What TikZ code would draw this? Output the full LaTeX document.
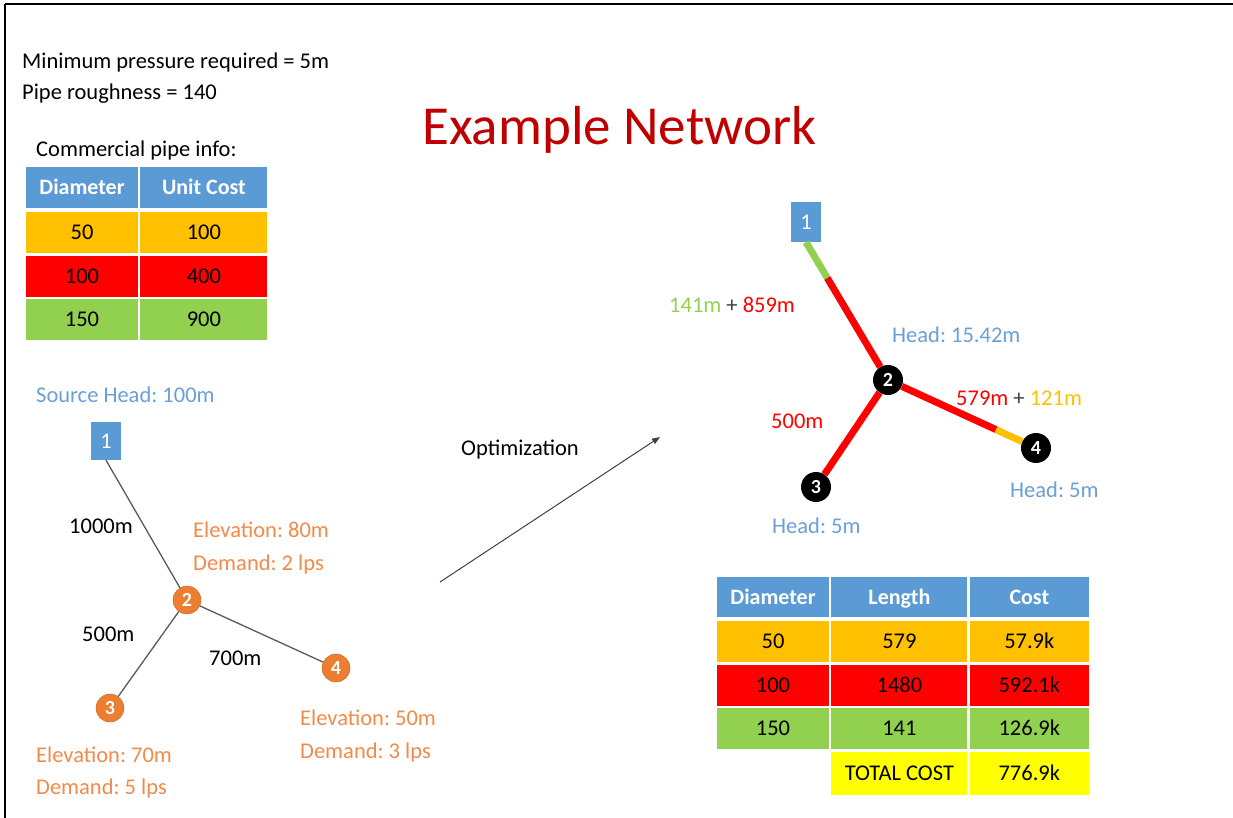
\documentclass[tikz,border=0pt]{standalone}
\usepackage{fontspec}
\setmainfont{Carlito}
\usepackage{xcolor}
\usetikzlibrary{arrows.meta,positioning,calc}
\definecolor{hdrblue}{HTML}{5B9BD5}
\definecolor{headblue}{HTML}{6A9FD8}
\definecolor{pipeorange}{HTML}{FFC000}
\definecolor{pipered}{HTML}{FF0000}
\definecolor{pipegreen}{HTML}{92D050}
\definecolor{totalyellow}{HTML}{FFFF00}
\definecolor{nodeorange}{HTML}{ED7D31}
\definecolor{elevorange}{HTML}{F28A4B}
\definecolor{titlered}{HTML}{C00000}
\frenchspacing

\begin{document}
\begin{tikzpicture}[x=1pt, y=-1pt, every node/.style={font=\fontsize{22.5}{26}\selectfont}, lbl/.style={anchor=base west, inner sep=0pt}, cell/.style={rectangle, inner sep=0pt, minimum height=41pt, text height=14pt, text depth=0pt, text=black}, hdr/.style={cell, fill=hdrblue, text=white, font=\fontsize{22}{26}\selectfont\bfseries}, small/.style={cell, fill=pipeorange}, medium/.style={cell, fill=pipered}, large/.style={cell, fill=pipegreen}, total/.style={cell, fill=totalyellow}, source/.style={rectangle, fill=hdrblue, text=white, minimum width=30pt, minimum height=38pt, inner sep=0pt}, junction/.style={circle, fill=nodeorange, draw=nodeorange!80!black, text=white, minimum size=28pt, inner sep=0pt, font=\fontsize{20}{22}\selectfont\bfseries}, solved/.style={circle, fill=black, text=white, minimum size=30pt, inner sep=0pt, font=\fontsize{20}{22}\selectfont\bfseries}, link/.style={draw=black!65, line width=1.3pt}, pipe/.style={line width=7pt}, optarrow/.style={-{Triangle[length=8pt,width=6pt]}, draw=black!75, line width=1pt}]
\useasboundingbox (0,0) rectangle (1233,818);
\draw[line width=2.5pt] (5,4) -- (1233,4);
\draw[line width=2pt] (5,4) -- (5,818);

% problem data
\node[lbl] (minp) at (22,69) {Minimum pressure required = 5m};
\node[lbl] (rough) at (22,100) {Pipe roughness = 140};
\node[lbl, text=titlered, font=\fontsize{55}{60}\selectfont] (title) at (422,145) {Example Network};
\node[lbl] (info) at (36,157) {Commercial pipe info:};

% commercial pipe table
\node[hdr, minimum width=112pt] (pdia) at (82,187.5) {Diameter};
\node[hdr, minimum width=127pt, right=2pt of pdia] (pcost) {Unit Cost};
\node[small, minimum width=112pt, below=4pt of pdia] (pdia50) {50};
\node[small, minimum width=127pt, below=4pt of pcost] (pcost50) {100};
\node[medium, minimum width=112pt, below=2pt of pdia50] (pdia100) {100};
\node[medium, minimum width=127pt, below=2pt of pcost50] (pcost100) {400};
\node[large, minimum width=112pt, below=2pt of pdia100] (pdia150) {150};
\node[large, minimum width=127pt, below=2pt of pcost100] (pcost150) {900};

% input network
\node[lbl, text=headblue] (srchead) at (36,402) {Source Head: 100m};
\node[source] (a1) at (106,441) {1};
\node[junction] (a2) at (187,600) {2};
\node[junction] (a3) at (110,708) {3};
\node[junction] (a4) at (336,668) {4};
\draw[link] (a1.south) -- (a2);
\draw[link] (a2) -- (a3);
\draw[link] (a2) -- (a4);
\node[lbl] (len12) at (69,533) {1000m};
\node[lbl] (len23) at (82,641) {500m};
\node[lbl] (len24) at (209,665) {700m};
\node[lbl, text=elevorange] (elev2) at (193,537) {Elevation: 80m};
\node[lbl, text=elevorange] (dem2) at (193,570) {Demand: 2 lps};
\node[lbl, text=elevorange] (elev3) at (36,762) {Elevation: 70m};
\node[lbl, text=elevorange] (dem3) at (36,794) {Demand: 5 lps};
\node[lbl, text=elevorange] (elev4) at (300,725) {Elevation: 50m};
\node[lbl, text=elevorange] (dem4) at (300,758) {Demand: 3 lps};

% optimization step
\coordinate (optfrom) at (440,582);
\coordinate (optto) at (660,437);
\draw[optarrow] (optfrom) -- (optto);
\node[lbl] (opt) at (461,455) {Optimization};

% optimized network
\node[source, minimum height=40pt] (b1) at (806,222) {1};
\node[solved] (b2) at (888,380) {2};
\node[solved] (b3) at (816,487) {3};
\node[solved] (b4) at (1036,448) {4};
\coordinate (split12) at ($(b1.south)!0.26!(b2)$);
\coordinate (split24) at ($(b2)!0.73!(b4)$);
\draw[pipe, pipegreen] (b1.south) -- (split12);
\draw[pipe, pipered] (split12) -- (b2);
\draw[pipe, pipered] (b2) -- (b3);
\draw[pipe, pipered] (b2) -- (split24);
\draw[pipe, pipeorange] (split24) -- (b4);
\node[lbl] (len12b) at (669,312) {\textcolor{pipegreen}{141m} \textcolor{black!75}{+} \textcolor{pipered}{859m}};
\node[lbl] (len24b) at (956,405) {\textcolor{pipered}{579m} \textcolor{black!75}{+} \textcolor{pipeorange}{121m}};
\node[lbl, text=pipered] (len23b) at (771,428) {500m};
\node[lbl, text=headblue] (head2) at (892,342) {Head: 15.42m};
\node[lbl, text=headblue] (head3) at (772,533) {Head: 5m};
\node[lbl, text=headblue] (head4) at (1010,497) {Head: 5m};

% result table
\node[hdr, minimum width=112pt, minimum height=40pt] (rdia) at (773,597) {Diameter};
\node[hdr, minimum width=136pt, minimum height=40pt, right=2pt of rdia] (rlen) {Length};
\node[hdr, minimum width=119pt, minimum height=40pt, right=2pt of rlen] (rcost) {Cost};
\node[small, minimum width=112pt, below=4pt of rdia] (rdia50) {50};
\node[small, minimum width=136pt, below=4pt of rlen] (rlen50) {579};
\node[small, minimum width=119pt, below=4pt of rcost] (rcost50) {57.9k};
\node[medium, minimum width=112pt, below=2pt of rdia50] (rdia100) {100};
\node[medium, minimum width=136pt, below=2pt of rlen50] (rlen100) {1480};
\node[medium, minimum width=119pt, below=2pt of rcost50] (rcost100) {592.1k};
\node[large, minimum width=112pt, below=2pt of rdia100] (rdia150) {150};
\node[large, minimum width=136pt, below=2pt of rlen100] (rlen150) {141};
\node[large, minimum width=119pt, below=2pt of rcost100] (rcost150) {126.9k};
\node[total, minimum width=136pt, minimum height=43pt, below=2pt of rlen150] (rtotal) {TOTAL COST};
\node[total, minimum width=119pt, minimum height=43pt, below=2pt of rcost150] (rtotalcost) {776.9k};
\end{tikzpicture}
\end{document}
